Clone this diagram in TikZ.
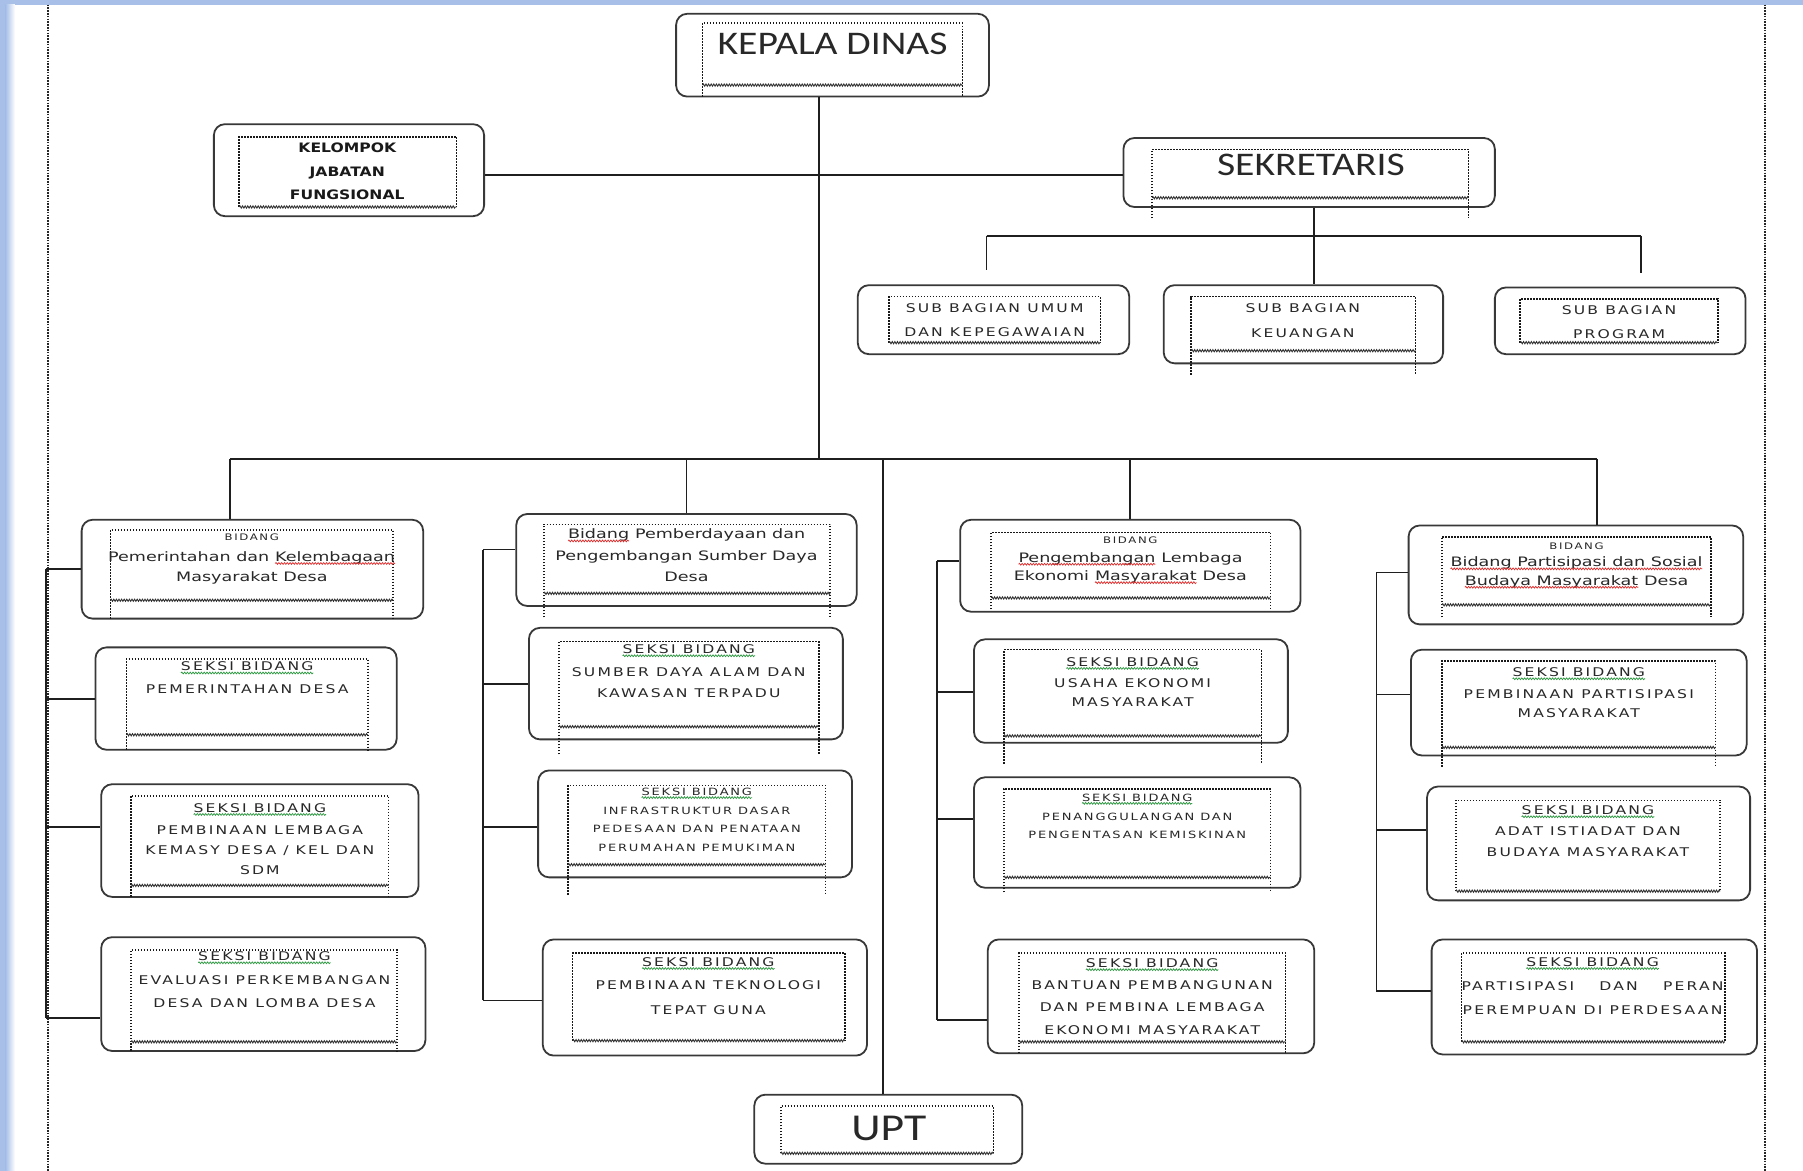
\documentclass[tikz,border=0pt]{standalone}
\usepackage{fontspec}
\usetikzlibrary{fit,decorations.pathmorphing}
\newfontfamily\tfont[FakeStretch=1.2]{Carlito}
\newfontfamily\sfont[FakeStretch=1.3,LetterSpace=18]{DejaVu Sans}
\newfontfamily\mfont[FakeStretch=1.35]{DejaVu Sans}
\newfontfamily\kfont[FakeStretch=1.2]{DejaVu Sans}
\definecolor{frameblue}{RGB}{168,192,232}
\definecolor{sqred}{RGB}{220,40,40}
\definecolor{sqgreen}{RGB}{40,150,60}
\definecolor{txt}{RGB}{40,40,40}
\tikzset{
 obox/.style={draw=black!78, line width=1.8pt, rounded corners=11pt, inner sep=0pt, fill=white},
 idot/.style={draw=black!90, line width=1.6pt, dash pattern=on 1.5pt off 1.5pt},
 iwave/.style={draw=black!80, line width=0.9pt, decorate, decoration={snake, amplitude=1.1pt, segment length=2.6pt}},
 conn/.style={draw=black!88, line width=1.7pt},
 frameline/.style={draw=black!85, line width=2pt, dash pattern=on 1.6pt off 1.2pt},
 ttl/.style={font=\tfont\fontsize{#1}{#1}\selectfont, text=txt, inner sep=0pt},
 ttl/.default=33,
 hdr/.style={font=\sfont\fontsize{#1}{14}\selectfont, text=txt, inner sep=0pt},
 hdr/.default=12,
 body/.style={font=\sfont\fontsize{12}{#1}\selectfont, align=center, text=txt, inner sep=0pt},
 body/.default=20.5,
 sbody/.style={font=\sfont\fontsize{10}{#1}\selectfont, align=center, text=txt, inner sep=0pt},
 sbody/.default=18.4,
 mbody/.style={font=\mfont\fontsize{13}{#1}\selectfont, align=center, text=txt, inner sep=0pt},
 mbody/.default=20.7,
 kbody/.style={font=\kfont\bfseries\fontsize{13}{23.6}\selectfont, align=center, text=black!90, inner sep=0pt},
 sqword/.style={inner sep=0pt, outer sep=0pt, anchor=base},
 sqline/.style={line width=0.7pt, decorate, decoration={snake, amplitude=0.9pt, segment length=2.8pt}},
}
\newcommand\sq[2]{\tikz[baseline=(sqw.base)]{\node[sqword] (sqw) {#2};\draw[sqline,#1] ([yshift=-2.2pt]sqw.base west) -- ([yshift=-2.2pt]sqw.base east);}}
\newcommand\ob[5]{\node[obox,fit={(#2,#3)(#4,#5)}] (#1) {};}
\newcommand\ib[5]{\draw[idot] (#1,#5) -- (#1,#2) -- (#3,#2) -- (#3,#5); \draw[iwave] (#1,#4) -- (#3,#4);}
\begin{document}
\begin{tikzpicture}[x=1.15pt,y=-1.15pt]
\useasboundingbox (0,0) rectangle (1568,1018);
% frame
\fill[frameblue] (0,0) rectangle (1568,4);
\fill[frameblue] (0,0) rectangle (5,1018);
\shade[left color=frameblue, right color=white] (5,4) rectangle (13,1018);
\draw[frameline] (42,4) -- (42,1018);
\draw[frameline] (1535,4) -- (1535,1018);

% coordinates for buses and spines
\coordinate (tk) at (712,399);
\coordinate (mb1) at (200,399);
\coordinate (mb4) at (1389,399);
\coordinate (ut) at (768,399);
\coordinate (sb1) at (858,205);
\coordinate (sbm) at (1143,205);
\coordinate (sb3) at (1427,205);
\coordinate (sb1e) at (858,235);
\coordinate (sb3e) at (1427,237);
\coordinate (q11) at (40,495); \coordinate (q12) at (40,608); \coordinate (q13) at (40,719); \coordinate (q14) at (40,885);
\coordinate (q21) at (420,478); \coordinate (q22) at (420,595); \coordinate (q23) at (420,719); \coordinate (q24) at (420,870);
\coordinate (q31) at (815,488); \coordinate (q32) at (815,602); \coordinate (q33) at (815,712); \coordinate (q34) at (815,887);
\coordinate (q41) at (1197,498); \coordinate (q42) at (1197,604); \coordinate (q43) at (1197,722); \coordinate (q44) at (1197,862);

% boxes
\ob{kd}{588}{12}{860}{84}
\ob{kjf}{186}{108}{421}{188}
\ob{sek}{977}{120}{1300}{180}
\ob{umum}{746}{248}{982}{308}
\ob{keu}{1012}{248}{1255}{316}
\ob{prog}{1300}{250}{1518}{308}
\ob{upt}{656}{952}{889}{1012}
\ob{c1h}{71}{452}{368}{538}
\ob{c1b2}{83}{563}{345}{652}
\ob{c1b3}{88}{682}{364}{780}
\ob{c1b4}{88}{815}{370}{914}
\ob{c2h}{449}{447}{745}{527}
\ob{c2b2}{460}{546}{733}{643}
\ob{c2b3}{468}{670}{741}{763}
\ob{c2b4}{472}{817}{754}{918}
\ob{c3h}{835}{452}{1131}{532}
\ob{c3b2}{847}{556}{1120}{646}
\ob{c3b3}{847}{676}{1131}{772}
\ob{c3b4}{859}{817}{1143}{916}
\ob{c4h}{1225}{457}{1516}{543}
\ob{c4b2}{1227}{565}{1519}{657}
\ob{c4b3}{1241}{684}{1522}{783}
\ob{c4b4}{1245}{817}{1528}{917}

% inner dotted text frames
\ib{611}{20}{837}{74}{84}
\ib{208}{119}{397}{180}{180}
\ib{1002}{130}{1277}{172}{190}
\ib{773}{258}{957}{298}{298}
\ib{1036}{258}{1231}{305}{326}
\ib{1322}{260}{1494}{298}{298}
\ib{679}{962}{864}{1003}{1003}
\ib{96}{461}{342}{522}{538}
\ib{110}{573}{320}{639}{652}
\ib{114}{692}{338}{770}{780}
\ib{114}{826}{345}{906}{914}
\ib{473}{456}{722}{516}{537}
\ib{486}{558}{712}{632}{656}
\ib{494}{683}{718}{752}{778}
\ib{498}{829}{735}{905}{905}
\ib{862}{463}{1105}{520}{530}
\ib{873}{565}{1097}{640}{664}
\ib{873}{686}{1105}{763}{776}
\ib{886}{829}{1118}{906}{916}
\ib{1254}{467}{1488}{526}{537}
\ib{1254}{575}{1492}{650}{667}
\ib{1266}{696}{1496}{775}{775}
\ib{1271}{829}{1500}{906}{906}

% connectors
\draw[conn] (kd.south -| tk) -- (tk);
\draw[conn] ([yshift=-5pt]kjf.east) -- ([yshift=-5pt]kjf.east -| sek.west);
\draw[conn] (mb1) -- (mb4);
\draw[conn] (mb1) -- (mb1 |- c1h.north);
\draw[conn] (c2h.north |- tk) -- (c2h.north);
\draw[conn] (c3h.north |- tk) -- (c3h.north);
\draw[conn] (mb4) -- (mb4 |- c4h.north);
\draw[conn] (ut) -- (ut |- upt.north);
\draw[conn] (sb1) -- (sb3);
\draw[conn] (sek.south -| sbm) -- (sbm |- keu.north);
\draw[conn] (sb1) -- (sb1e);
\draw[conn] (sb3) -- (sb3e);
\draw[conn] (q11) -- (q14);
\draw[conn] (q11) -- (q11 -| c1h.west);
\draw[conn] (q12) -- (q12 -| c1b2.west);
\draw[conn] (q13) -- (q13 -| c1b3.west);
\draw[conn] (q14) -- (q14 -| c1b4.west);
\draw[conn] (q21) -- (q24);
\draw[conn] (q21) -- (q21 -| c2h.west);
\draw[conn] (q22) -- (q22 -| c2b2.west);
\draw[conn] (q23) -- (q23 -| c2b3.west);
\draw[conn] (q24) -- (q24 -| c2b4.west);
\draw[conn] (q31) -- (q34);
\draw[conn] (q31) -- (q31 -| c3h.west);
\draw[conn] (q32) -- (q32 -| c3b2.west);
\draw[conn] (q33) -- (q33 -| c3b3.west);
\draw[conn] (q34) -- (q34 -| c3b4.west);
\draw[conn] (q41) -- (q44);
\draw[conn] (q41) -- (q41 -| c4h.west);
\draw[conn] (q42) -- (q42 -| c4b2.west);
\draw[conn] (q43) -- (q43 -| c4b3.west);
\draw[conn] (q44) -- (q44 -| c4b4.west);

% texts
\node[ttl] (kdt) at (724,38) {KEPALA DINAS};
\node[ttl] (sekt) at (1140,143) {SEKRETARIS};
\node[ttl=38] (uptt) at (773,981) {UPT};
\node[kbody] (kjft) at (302,149) {KELOMPOK\\JABATAN\\FUNGSIONAL};
\node[body=24] (umumt) at (865,278.5) {SUB BAGIAN UMUM\\DAN KEPEGAWAIAN};
\node[body=25] (keut) at (1133,279) {SUB BAGIAN\\KEUANGAN};
\node[body=24] (progt) at (1408,280.5) {SUB BAGIAN\\PROGRAM};

% column 1
\node[hdr=9] (c1hs) at (219,467) {BIDANG};
\node[mbody] (c1ht) at (219,494) {Pemerintahan dan \sq{sqred}{Kelembagaan}\\Masyarakat Desa};
\node[hdr] (c1b2s) at (215,581) {\sq{sqgreen}{SEKSI BIDANG}};
\node[body] (c1b2t) at (215,599) {PEMERINTAHAN DESA};
\node[hdr] (c1b3s) at (226,704) {\sq{sqgreen}{SEKSI BIDANG}};
\node[body=20] (c1b3t) at (226,739) {PEMBINAAN LEMBAGA\\KEMASY DESA / KEL DAN\\SDM};
\node[hdr] (c1b4s) at (230,833) {\sq{sqgreen}{SEKSI BIDANG}};
\node[body=23] (c1b4t) at (230,862) {EVALUASI PERKEMBANGAN\\DESA DAN LOMBA DESA};

% column 2
\node[mbody=21.5] (c2ht) at (597,483) {\sq{sqred}{Bidang} Pemberdayaan dan\\Pengembangan Sumber Daya\\Desa};
\node[hdr] (c2b2s) at (599,566) {\sq{sqgreen}{SEKSI BIDANG}};
\node[body=21] (c2b2t) at (599,594) {SUMBER DAYA ALAM DAN\\KAWASAN TERPADU};
\node[hdr=10] (c2b3s) at (606,690) {\sq{sqgreen}{SEKSI BIDANG}};
\node[sbody] (c2b3t) at (606,721) {INFRASTRUKTUR DASAR\\PEDESAAN DAN PENATAAN\\PERUMAHAN PEMUKIMAN};
\node[hdr] (c2b4s) at (616,838) {\sq{sqgreen}{SEKSI BIDANG}};
\node[body=25] (c2b4t) at (616,868) {PEMBINAAN TEKNOLOGI\\TEPAT GUNA};

% column 3
\node[hdr=9] (c3hs) at (983,470) {BIDANG};
\node[mbody=18.4] (c3ht) at (983,494) {\sq{sqred}{Pengembangan} Lembaga\\Ekonomi \sq{sqred}{Masyarakat} Desa};
\node[hdr] (c3b2s) at (985,577) {\sq{sqgreen}{SEKSI BIDANG}};
\node[body=19.5] (c3b2t) at (985,602.5) {USAHA EKONOMI\\MASYARAKAT};
\node[hdr=10] (c3b3s) at (989,695) {\sq{sqgreen}{SEKSI BIDANG}};
\node[sbody] (c3b3t) at (989,718) {PENANGGULANGAN DAN\\PENGENTASAN KEMISKINAN};
\node[hdr] (c3b4s) at (1002,839) {\sq{sqgreen}{SEKSI BIDANG}};
\node[body=22.4] (c3b4t) at (1002,876) {BANTUAN PEMBANGUNAN\\DAN PEMBINA LEMBAGA\\EKONOMI MASYARAKAT};

% column 4
\node[hdr=9] (c4hs) at (1371,475) {BIDANG};
\node[mbody=18.4] (c4ht) at (1371,498) {\sq{sqred}{Bidang Partisipasi dan Sosial}\\\sq{sqred}{Budaya Masyarakat} Desa};
\node[hdr] (c4b2s) at (1373,586) {\sq{sqgreen}{SEKSI BIDANG}};
\node[body=19] (c4b2t) at (1373,612) {PEMBINAAN PARTISIPASI\\MASYARAKAT};
\node[hdr] (c4b3s) at (1381,706) {\sq{sqgreen}{SEKSI BIDANG}};
\node[body=20.5] (c4b3t) at (1381,732) {ADAT ISTIADAT DAN\\BUDAYA MASYARAKAT};
\node[hdr] (c4b4s) at (1385,838) {\sq{sqgreen}{SEKSI BIDANG}};
\node[body=24] (c4b4t) at (1385,868) {\makebox[262pt][s]{PARTISIPASI DAN PERAN}\\PEREMPUAN DI PERDESAAN};
\end{tikzpicture}
\end{document}
